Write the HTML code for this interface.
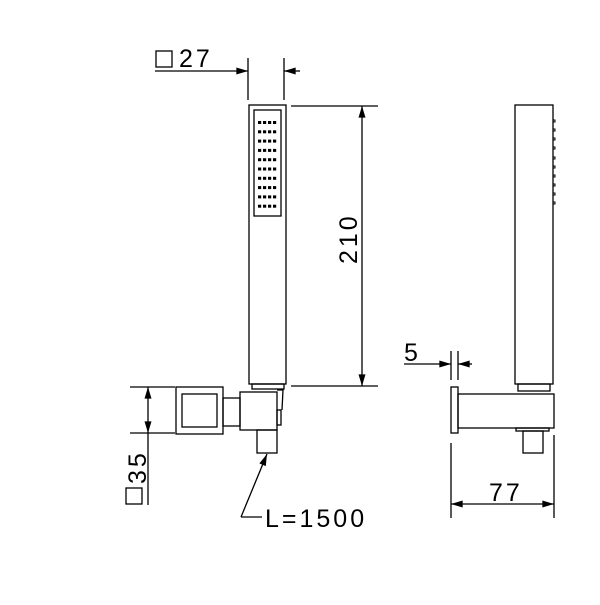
<!DOCTYPE html>
<html><head><style>body{margin:0;background:#fff}</style></head><body>
<svg width="600" height="600" viewBox="0 0 600 600" xmlns="http://www.w3.org/2000/svg" font-family="Liberation Sans, sans-serif">
<defs>
<marker id="a" viewBox="0 0 10 6" refX="10" refY="3" markerWidth="12" markerHeight="7" markerUnits="userSpaceOnUse" orient="auto"><path d="M0,0L10,3L0,6z" fill="#000"/></marker>
</defs>
<g fill="none" stroke="#000" stroke-width="1.3">
<!-- 27 dim -->
<line x1="155" y1="71" x2="248" y2="71" marker-end="url(#a)"/>
<line x1="300" y1="71" x2="284" y2="71" marker-end="url(#a)"/>
<line x1="248" y1="58" x2="248" y2="100"/>
<line x1="284" y1="58" x2="284" y2="100"/>
<rect x="156" y="51" width="16" height="16"/>
<!-- front handle -->
<rect x="249" y="105" width="37" height="279"/>
<rect x="254" y="110" width="27" height="106"/>
<rect x="252" y="384" width="32" height="5"/>
<!-- 210 dim -->
<line x1="291" y1="106" x2="378" y2="106"/>
<line x1="291" y1="386" x2="378" y2="386"/>
<line x1="362" y1="120" x2="362" y2="106" marker-end="url(#a)"/>
<line x1="362" y1="120" x2="362" y2="386" marker-end="url(#a)"/>
<!-- wall plate front -->
<rect x="176" y="387" width="47" height="47"/>
<rect x="182" y="394" width="35" height="33"/>
<rect x="223" y="398" width="17" height="28"/>
<rect x="240" y="392" width="37" height="38"/>
<rect x="257" y="430" width="20" height="23"/>
<path d="M277,390 L283,390 L282,410"/>
<rect x="277" y="410" width="4" height="15"/>
<!-- 35 dim -->
<line x1="130" y1="387" x2="175" y2="387"/>
<line x1="130" y1="433" x2="175" y2="433"/>
<line x1="148" y1="410" x2="148" y2="387" marker-end="url(#a)"/>
<line x1="148" y1="410" x2="148" y2="433" marker-end="url(#a)"/>
<line x1="148" y1="433" x2="148" y2="505"/>
<rect x="126" y="488" width="16" height="16"/>
<!-- leader -->
<polyline points="241,517 262,517"/>
<line x1="241" y1="517" x2="267" y2="454" marker-end="url(#a)"/>
<!-- side view -->
<rect x="515" y="105" width="38" height="279"/>
<rect x="518" y="384" width="32" height="7"/>
<rect x="451" y="387" width="7" height="46"/>
<rect x="458" y="394" width="96" height="34"/>
<rect x="516" y="428" width="33" height="3"/>
<rect x="523" y="431" width="20" height="22"/>
<!-- 5 dim -->
<line x1="451" y1="351" x2="451" y2="380"/>
<line x1="458" y1="351" x2="458" y2="380"/>
<line x1="404" y1="364" x2="451" y2="364" marker-end="url(#a)"/>
<line x1="472" y1="364" x2="458" y2="364" marker-end="url(#a)"/>
<!-- 77 dim -->
<line x1="451" y1="443" x2="451" y2="518"/>
<line x1="554" y1="435" x2="554" y2="518"/>
<line x1="480" y1="504" x2="451" y2="504" marker-end="url(#a)"/>
<line x1="480" y1="504" x2="554" y2="504" marker-end="url(#a)"/>
</g>
<g fill="#000">
<g id="row"><rect x="258" y="121" width="3.2" height="3"/><rect x="263" y="121" width="3.2" height="3"/><rect x="268" y="121" width="3.2" height="3"/><rect x="273" y="121" width="3.2" height="3"/></g>
<use href="#row" y="9.3"/><use href="#row" y="18.6"/><use href="#row" y="27.9"/><use href="#row" y="37.2"/><use href="#row" y="46.5"/><use href="#row" y="55.8"/><use href="#row" y="65.1"/><use href="#row" y="74.4"/><use href="#row" y="83.7"/>
</g>
<g fill="none" stroke="#000" stroke-width="1">
<rect x="553" y="120" width="2" height="2"/><rect x="553" y="129" width="2" height="2"/><rect x="553" y="138" width="2" height="2"/><rect x="553" y="147" width="2" height="2"/><rect x="553" y="157" width="2" height="2"/><rect x="553" y="166" width="2" height="2"/><rect x="553" y="175" width="2" height="2"/><rect x="553" y="184" width="2" height="2"/><rect x="553" y="193" width="2" height="2"/><rect x="553" y="202" width="2" height="2"/>
</g>
<g font-size="25" fill="#000" letter-spacing="3">
<text x="179" y="67">27</text>
<text x="0" y="0" transform="translate(357,264) rotate(-90)">210</text>
<text x="0" y="0" transform="translate(146,484) rotate(-90)">35</text>
<text x="265" y="527">L=1500</text>
<text x="404" y="361">5</text>
<text x="489" y="501">77</text>
</g>
</svg>
</body></html>
